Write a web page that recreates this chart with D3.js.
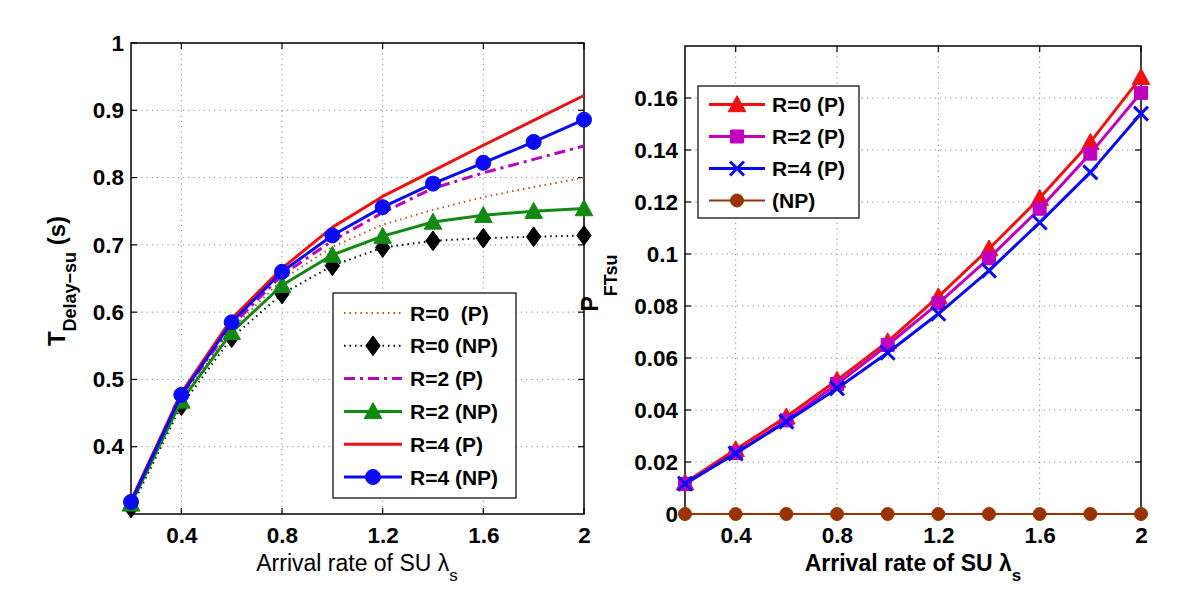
<!DOCTYPE html>
<html><head><meta charset="utf-8">
<script src="https://cdn.jsdelivr.net/npm/d3@7"></script>
<style>
body{margin:0;background:#fff}
svg text{font-family:"Liberation Sans",Arial,Helvetica,sans-serif}
</style>
</head><body>
<svg id="chart" width="1200" height="589"></svg>
<script>
// ---------- data ----------
const arrivalRates = [0.2,0.4,0.6,0.8,1.0,1.2,1.4,1.6,1.8,2.0];
const xTickValues = [0.4,0.8,1.2,1.6,2];
const xTickLabels = ["0.4","0.8","1.2","1.6","2"];
const delayTickValues = [0.4,0.5,0.6,0.7,0.8,0.9,1];
const delayTickLabels = ["0.4","0.5","0.6","0.7","0.8","0.9","1"];
const pftTickValues = [0,0.02,0.04,0.06,0.08,0.1,0.12,0.14,0.16];
const pftTickLabels = ["0","0.02","0.04","0.06","0.08","0.1","0.12","0.14","0.16"];

// left panel: T Delay-su (s)
const delayR0P  = [0.314,0.471,0.575,0.648,0.697,0.730,0.752,0.771,0.786,0.800];
const delayR0NP = [0.309,0.461,0.562,0.627,0.669,0.696,0.706,0.710,0.712,0.714];
const delayR2P  = [0.318,0.476,0.580,0.655,0.706,0.748,0.784,0.807,0.827,0.847];
const delayR2NP = [0.315,0.468,0.570,0.640,0.685,0.713,0.734,0.744,0.750,0.754];
const delayR4P  = [0.320,0.480,0.590,0.665,0.726,0.772,0.810,0.848,0.885,0.922];
const delayR4NP = [0.318,0.477,0.585,0.660,0.714,0.756,0.791,0.822,0.853,0.886];
const delayLabels = ["R=0  (P)","R=0 (NP)","R=2 (P)","R=2 (NP)","R=4 (P)","R=4 (NP)"];

// right panel: P FTsu
const pftR0P = [0.0120,0.0248,0.0374,0.0515,0.0663,0.0836,0.1020,0.1215,0.1430,0.1680];
const pftR2P = [0.0115,0.0235,0.0360,0.0500,0.0650,0.0810,0.0984,0.1174,0.1386,0.1620];
const pftR4P = [0.0117,0.0233,0.0355,0.0483,0.0620,0.0770,0.0936,0.1121,0.1314,0.1540];
const pftNP  = [0,0,0,0,0,0,0,0,0,0];
const pftLabels = ["R=0 (P)","R=2 (P)","R=4 (P)","(NP)"];

// ---------- helpers ----------
const svg = d3.select("#chart");
const markerPath = {
  circle: r => `M${-r},0A${r},${r} 0 1,0 ${r},0A${r},${r} 0 1,0 ${-r},0Z`,
  triangle: s => `M0,${-s*0.55}L${s*0.55},${s*0.45}L${-s*0.55},${s*0.45}Z`,
  diamond: s => `M0,${-s*0.55}L${s*0.4},0L0,${s*0.55}L${-s*0.4},0Z`,
  square: s => `M${-s/2},${-s/2}h${s}v${s}h${-s}Z`,
  cross: s => `M${-s/2},${-s/2}L${s/2},${s/2}M${s/2},${-s/2}L${-s/2},${s/2}`
};
function drawMarker(g, type, size, color, x, y){
  const p = g.append("path").attr("transform",`translate(${x},${y})`)
    .attr("d", type==="circle" ? markerPath.circle(size/2) : markerPath[type](size));
  if(type==="cross") p.attr("fill","none").attr("stroke",color).attr("stroke-width",3);
  else p.attr("fill",color).attr("stroke",color).attr("stroke-width",1);
}

function panel(cfg){
  const g = svg.append("g");
  const x = d3.scaleLinear().domain([0.2,2]).range([cfg.left,cfg.right]);
  const y = d3.scaleLinear().domain(cfg.yDomain).range([cfg.bottom,cfg.top]);
  // grid
  const grid = g.append("g").attr("stroke","#8a8a8a").attr("stroke-width",1).attr("stroke-dasharray","1.2,4");
  xTickValues.forEach(v=>{ if(v<2) grid.append("line").attr("x1",x(v)).attr("x2",x(v)).attr("y1",cfg.top).attr("y2",cfg.bottom);});
  cfg.yTicks.forEach(v=>{ if(v>cfg.yDomain[0] && v<cfg.yDomain[1]) grid.append("line").attr("y1",y(v)).attr("y2",y(v)).attr("x1",cfg.left).attr("x2",cfg.right);});
  // axes via d3 (labels only) + inward ticks
  const xa = g.append("g").attr("transform",`translate(0,${cfg.bottom})`)
    .call(d3.axisBottom(x).tickValues(xTickValues).tickFormat((d,i)=>xTickLabels[i]).tickSize(0).tickPadding(13));
  const ya = g.append("g").attr("transform",`translate(${cfg.left},0)`)
    .call(d3.axisLeft(y).tickValues(cfg.yTicks).tickFormat((d,i)=>cfg.yLabels[i]).tickSize(0).tickPadding(7));
  [xa,ya].forEach(a=>{a.select(".domain").remove();
    a.selectAll("text").attr("font-size",22.5).attr("font-weight","bold").attr("fill","#000")
     .style("font-family",'"Liberation Sans",Arial,sans-serif');});
  xa.selectAll("text").attr("dy","0.71em");
  const tk = g.append("g").attr("stroke","#000").attr("stroke-width",1.2);
  xTickValues.forEach(v=>{
    tk.append("line").attr("x1",x(v)).attr("x2",x(v)).attr("y1",cfg.bottom).attr("y2",cfg.bottom-6);
    tk.append("line").attr("x1",x(v)).attr("x2",x(v)).attr("y1",cfg.top).attr("y2",cfg.top+6);
  });
  cfg.yTicks.forEach(v=>{
    tk.append("line").attr("y1",y(v)).attr("y2",y(v)).attr("x1",cfg.left).attr("x2",cfg.left+6);
    tk.append("line").attr("y1",y(v)).attr("y2",y(v)).attr("x1",cfg.right).attr("x2",cfg.right-6);
  });
  g.append("rect").attr("x",cfg.left).attr("y",cfg.top).attr("width",cfg.right-cfg.left).attr("height",cfg.bottom-cfg.top)
    .attr("fill","none").attr("stroke","#000").attr("stroke-width",1.5);
  // series
  const line = d3.line().x((d,i)=>x(arrivalRates[i])).y(d=>y(d));
  cfg.series.forEach(s=>{
    g.append("path").attr("d",line(s.values)).attr("fill","none").attr("stroke",s.color)
      .attr("stroke-width",s.width).attr("stroke-dasharray",s.dash||null).attr("stroke-linejoin","round");
    if(s.marker) s.values.forEach((v,i)=>drawMarker(g,s.marker,s.msize,s.color,x(arrivalRates[i]),y(v)));
  });
  // legend
  const L = cfg.legend;
  const lg = svg.append("g");
  lg.append("rect").attr("x",L.x).attr("y",L.y).attr("width",L.w).attr("height",L.h)
    .attr("fill","#fff").attr("stroke","#000").attr("stroke-width",1.2);
  cfg.series.forEach((s,i)=>{
    const ry = L.row0 + i*L.rowStep;
    lg.append("line").attr("x1",L.lx1).attr("x2",L.lx2).attr("y1",ry).attr("y2",ry)
      .attr("stroke",s.color).attr("stroke-width",s.width).attr("stroke-dasharray",s.dash||null);
    if(s.marker) drawMarker(lg,s.marker,s.msize,s.color,(L.lx1+L.lx2)/2,ry);
    lg.append("text").attr("x",L.tx).attr("y",ry).attr("dy","0.36em").attr("font-size",L.fs)
      .attr("font-weight","bold").style("white-space","pre").attr("xml:space","preserve").text(cfg.labels[i]);
  });
  return {x,y};
}

// ---------- left panel ----------
panel({
  left:131,right:584,top:43,bottom:514,yDomain:[0.3,1],
  yTicks:delayTickValues,yLabels:delayTickLabels,labels:delayLabels,
  series:[
    {values:delayR0P,color:"#b8561f",width:2,dash:"1.5,4"},
    {values:delayR0NP,color:"#000",width:2,dash:"1.5,4",marker:"diamond",msize:18},
    {values:delayR2P,color:"#bf00bf",width:3,dash:"11,5,3,5"},
    {values:delayR2NP,color:"#118a11",width:3,marker:"triangle",msize:16},
    {values:delayR4P,color:"#f01010",width:3},
    {values:delayR4NP,color:"#0a0af5",width:3,marker:"circle",msize:15}
  ],
  legend:{x:333,y:293,w:183,h:205,row0:313,rowStep:32.8,lx1:344,lx2:402,tx:410,fs:21}
});

// ---------- right panel ----------
panel({
  left:685,right:1141,top:46,bottom:514,yDomain:[0,0.18],
  yTicks:pftTickValues,yLabels:pftTickLabels,labels:pftLabels,
  series:[
    {values:pftR0P,color:"#f01010",width:3,marker:"triangle",msize:16},
    {values:pftR2P,color:"#bf00bf",width:3,marker:"square",msize:13},
    {values:pftR4P,color:"#0a0af5",width:3,marker:"cross",msize:14},
    {values:pftNP,color:"#993300",width:2,marker:"circle",msize:13}
  ],
  legend:{x:698,y:86,w:161,h:132,row0:104.5,rowStep:32,lx1:709,lx2:765,tx:772,fs:21}
});

// ---------- axis titles ----------
function xTitle(cx, y, bold){
  const t = svg.append("text").attr("x",cx).attr("y",y).attr("text-anchor","middle")
    .attr("font-size",23).attr("font-weight",bold?"bold":"normal");
  t.append("tspan").text("Arrival rate of SU λ");
  t.append("tspan").attr("dy",10).attr("font-size",17).text("s");
}
xTitle(357, 571, false);
xTitle(913, 571, true);

const yl = svg.append("text").attr("transform","translate(65,281) rotate(-90)")
  .attr("text-anchor","middle").attr("font-weight","bold").attr("font-size",24);
yl.append("tspan").text("T");
yl.append("tspan").attr("dy",11).attr("font-size",18).text("Delay−su");
yl.append("tspan").attr("dy",-11).attr("font-size",24).attr("xml:space","preserve").text(" (s)");

const yr = svg.append("text").attr("transform","translate(598,283) rotate(-90)")
  .attr("text-anchor","middle").attr("font-weight","bold").attr("font-size",23);
yr.append("tspan").text("P");
yr.append("tspan").attr("dy",19).attr("font-size",18).text("FTsu");
</script>
</body></html>
